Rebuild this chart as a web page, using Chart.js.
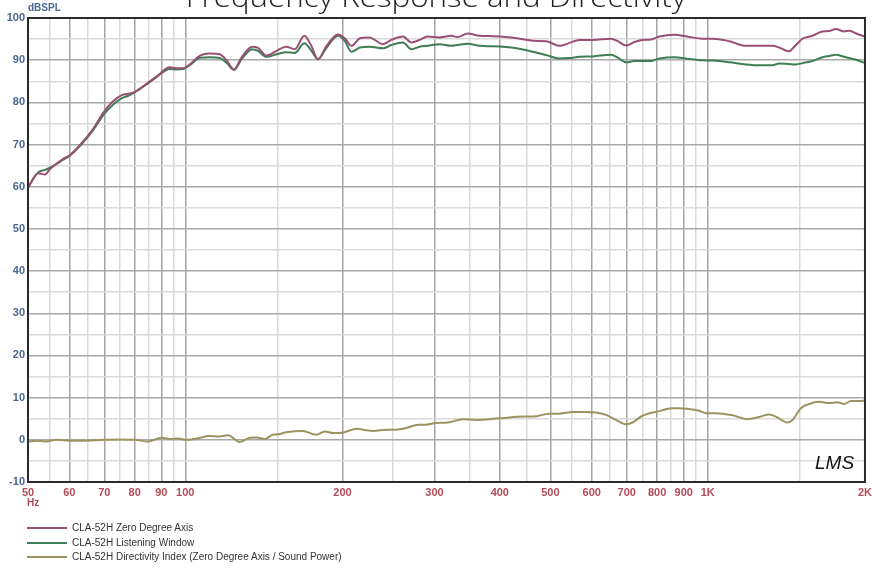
<!DOCTYPE html>
<html>
<head>
<meta charset="utf-8">
<title>Frequency Response and Directivity</title>
<script src="https://cdn.jsdelivr.net/npm/chart.js@4.4.1/dist/chart.umd.min.js"></script>
<style>
  body { margin: 0; background: #fff; font-family: "Liberation Sans", Arial, sans-serif; }
  #wrap { position: relative; width: 872px; height: 570px; overflow: hidden; }
  #frChart { position: absolute; left: 0; top: 0; }
  #title {
    position: absolute; left: 0; width: 872px; top: -17px; text-align: center;
    font: 300 27px/27px "Open Sans", sans-serif; color: #222; white-space: nowrap;
    transform: scaleX(1.16); transform-origin: 436px 0;
  }
  #unitY { position: absolute; left: 28px; top: 3px; font: bold 10px/10px "Liberation Sans", Arial, sans-serif; color: #4a6791; }
  #unitX { position: absolute; left: 27px; top: 498px; font: bold 10px/10px "Liberation Sans", Arial, sans-serif; color: #b24b58; }
  #logo {
    position: absolute; left: 815px; top: 453px; font: italic 19px/20px "Liberation Sans", Arial, sans-serif;
    color: #111;
  }
  #legend { position: absolute; left: 27px; top: 521px; }
  .row { display: flex; align-items: center; height: 14.5px; font: 10px/12px "Liberation Sans", Arial, sans-serif; color: #333; }
  .swatch { width: 40px; height: 2px; margin-right: 5px; }
</style>
</head>
<body>
<div id="wrap">
  <canvas id="frChart" width="872" height="570"></canvas>
  <div id="title">Frequency Response and Directivity</div>
  <div id="unitY">dBSPL</div>
  <div id="unitX">Hz</div>
  <div id="logo">LMS</div>
  <div id="legend"></div>
</div>
<script>
// Ejes
const xTickValues = [50, 60, 70, 80, 90, 100, 200, 300, 400, 500, 600, 700, 800, 900, 1000, 2000];
const xTickText = ["50", "60", "70", "80", "90", "100", "200", "300", "400", "500", "600", "700", "800", "900", "1K", "2K"];
const xMinorValues = [55, 65, 75, 85, 95, 150, 250, 350, 450, 550, 650, 750, 850, 950, 1500];

// Respuesta en frecuencia (Hz)
const respFreq = [50, 52.3, 53.9, 55.1, 58.4, 60, 62.9, 66.7, 69.9, 72.8, 75.6, 78.3, 80.1, 83.7, 88.1, 93.4, 96.2, 99, 102, 106.7,
  111.4, 116.4, 119.9, 124, 128.1, 134.3, 137.8, 143, 149.5, 156, 162, 169, 174, 179.5, 186, 196, 202, 208, 216, 225,
  239, 248, 261, 271, 281, 291, 307, 323, 332, 347, 366, 388, 411, 436, 463, 491, 520, 544, 568, 602,
  653, 673, 698, 724, 750, 779, 808, 863, 922, 978, 1022, 1100, 1183, 1254, 1330, 1370, 1428, 1475, 1519, 1587,
  1658, 1708, 1759, 1825, 1865, 1935, 2000];

const zeroDegree = [59.8, 63.2, 62.9, 64.2, 66.6, 67.4, 69.9, 73.8, 77.8, 80.3, 81.7, 82.1, 82.5, 84.1, 86.1, 88.3, 88.1, 88.1, 89.0, 91.1,
  91.6, 91.4, 90.0, 87.8, 90.6, 93.2, 92.9, 91.1, 92.2, 93.2, 92.6, 95.8, 93.6, 90.2, 93.2, 96.1, 95.2, 93.4, 95.2, 95.4,
  93.8, 94.8, 95.6, 94.2, 94.8, 95.6, 95.4, 95.8, 95.5, 96.3, 95.8, 95.7, 95.5, 95.1, 94.6, 94.5, 93.4, 94.1, 94.8, 94.8,
  95.1, 94.5, 93.5, 94.3, 94.8, 94.9, 95.6, 96.0, 95.5, 95.1, 95.1, 94.5, 93.4, 93.4, 93.4, 93.0, 92.1, 93.6, 95.1, 95.8,
  96.8, 96.9, 97.4, 96.8, 97.0, 96.2, 95.6];

const listeningWindow = [59.8, 63.4, 64.0, 64.5, 66.4, 67.3, 69.7, 73.5, 77.2, 79.5, 81.0, 81.7, 82.4, 84.0, 86.0, 87.9, 87.8, 87.9, 88.8, 90.6,
  90.7, 90.5, 89.4, 87.7, 90.2, 92.6, 92.2, 90.8, 91.4, 91.9, 91.7, 94.0, 92.4, 90.2, 92.8, 95.8, 94.6, 92.0, 93.0, 93.2,
  92.8, 93.6, 94.2, 92.6, 93.2, 93.4, 93.8, 93.4, 93.6, 93.9, 93.4, 93.3, 93.1, 92.7, 92.0, 91.2, 90.4, 90.5, 90.8, 90.9,
  91.3, 90.6, 89.5, 89.8, 89.8, 89.8, 90.4, 90.7, 90.3, 90.0, 89.9, 89.5, 89.0, 88.8, 88.8, 89.2, 89.1, 89.0, 89.3, 89.8,
  90.7, 91.0, 91.3, 90.8, 90.5, 90.0, 89.3];

// Índice de directividad
const diFreq = [50, 51.9, 53.9, 56.7, 60.2, 64.7, 69.7, 75, 80, 84.9, 90, 93.4, 97, 100.5, 105, 111.4, 116.4, 120.8, 127, 133,
  137, 142, 147, 150.6, 156, 168, 178, 185, 192, 200, 213, 219, 229, 243, 253, 265, 279, 289, 302, 318,
  340, 360, 399, 449, 463, 498, 520, 551, 585, 612, 639, 668, 698, 718, 750, 808, 853, 879, 922, 964,
  992, 1037, 1116, 1192, 1254, 1311, 1350, 1421, 1453, 1508, 1564, 1634, 1708, 1772, 1825, 1879, 1949, 2000];

const directivity = [-0.4, -0.2, -0.4, 0, -0.2, -0.2, 0, 0.1, 0, -0.4, 0.5, 0.2, 0.3, 0, 0.3, 0.9, 0.8, 1.1, -0.5, 0.5,
  0.55, 0.2, 1.2, 1.3, 1.8, 2.1, 1.2, 2.0, 1.6, 1.7, 2.6, 2.4, 2.1, 2.4, 2.4, 2.8, 3.6, 3.6, 4.0, 4.1,
  4.9, 4.7, 5.1, 5.5, 5.5, 6.2, 6.2, 6.6, 6.6, 6.5, 5.9, 4.7, 3.7, 4.1, 5.7, 6.8, 7.5, 7.5, 7.3, 6.9,
  6.3, 6.3, 5.8, 4.9, 5.4, 6.0, 5.5, 4.1, 4.7, 7.5, 8.5, 9.0, 8.7, 8.9, 8.5, 9.2, 9.2, 9.3];

const seriesNames = [
  "CLA-52H Zero Degree Axis",
  "CLA-52H Listening Window",
  "CLA-52H Directivity Index (Zero Degree Axis / Sound Power)"
];
const seriesColors = ["#985075", "#3f7d55", "#9b9460"];

const tickFont = { family: "'Liberation Sans', Arial, sans-serif", size: 11, weight: "bold" };

function toPoints(xs, ys) {
  return xs.map((x, i) => ({ x: x, y: ys[i] }));
}

// Marco negro alrededor del área del gráfico
const framePlugin = {
  id: "frame",
  afterDraw(chart) {
    const a = chart.chartArea;
    const c = chart.ctx;
    c.save();
    c.strokeStyle = "#2a2a2a";
    c.lineWidth = 2;
    c.strokeRect(a.left, a.top, a.right - a.left, a.bottom - a.top);
    c.restore();
  }
};

function createChart() {
  const ctx = document.getElementById("frChart").getContext("2d");
  const allX = xTickValues.concat(xMinorValues).sort((a, b) => a - b);

  return new Chart(ctx, {
    type: "line",
    data: {
      datasets: [
        { label: seriesNames[0], data: toPoints(respFreq, zeroDegree), borderColor: seriesColors[0] },
        { label: seriesNames[1], data: toPoints(respFreq, listeningWindow), borderColor: seriesColors[1] },
        { label: seriesNames[2], data: toPoints(diFreq, directivity), borderColor: seriesColors[2] }
      ]
    },
    options: {
      responsive: false,
      animation: false,
      devicePixelRatio: 1,
      layout: { padding: { top: 18, right: 6, bottom: 68, left: 0 } },
      elements: {
        point: { radius: 0 },
        line: { borderWidth: 2, cubicInterpolationMode: "monotone", fill: false }
      },
      plugins: {
        legend: { display: false },
        tooltip: { enabled: false },
        title: { display: false }
      },
      scales: {
        x: {
          type: "logarithmic",
          min: 50,
          max: 2000,
          afterBuildTicks: (s) => { s.ticks = allX.map(v => ({ value: v })); },
          afterFit: (s) => { s.height = 20; },
          border: { display: false },
          grid: {
            drawTicks: true,
            tickLength: 4,
            tickColor: "rgba(0,0,0,0)",
            lineWidth: 1.5,
            color: (c) => (c.tick && xTickValues.includes(c.tick.value)) ? "#a4a4a4" : "#dadada"
          },
          ticks: {
            autoSkip: false,
            maxRotation: 0,
            minRotation: 0,
            padding: 0,
            color: "#b24b58",
            font: tickFont,
            callback: (v) => {
              const i = xTickValues.indexOf(v);
              return i >= 0 ? xTickText[i] : "";
            }
          }
        },
        y: {
          min: -10,
          max: 100,
          afterFit: (s) => { s.width = 28; },
          border: { display: false },
          grid: {
            drawTicks: false,
            lineWidth: 1.5,
            color: (c) => (c.tick && c.tick.value % 10 === 0) ? "#a8a8a8" : "#dadada"
          },
          ticks: {
            stepSize: 5,
            padding: 3,
            color: "#4a6791",
            font: tickFont,
            callback: (v) => (v % 10 === 0 ? String(v) : "")
          }
        }
      }
    },
    plugins: [framePlugin]
  });
}

function renderLegend(chart) {
  const box = document.getElementById("legend");
  chart.data.datasets.forEach((ds) => {
    const row = document.createElement("div");
    row.className = "row";
    const sw = document.createElement("span");
    sw.className = "swatch";
    sw.style.background = ds.borderColor;
    const txt = document.createElement("span");
    txt.textContent = ds.label;
    row.appendChild(sw);
    row.appendChild(txt);
    box.appendChild(row);
  });
}

window.addEventListener("load", () => {
  const chart = createChart();
  renderLegend(chart);
});
</script>
</body>
</html>
